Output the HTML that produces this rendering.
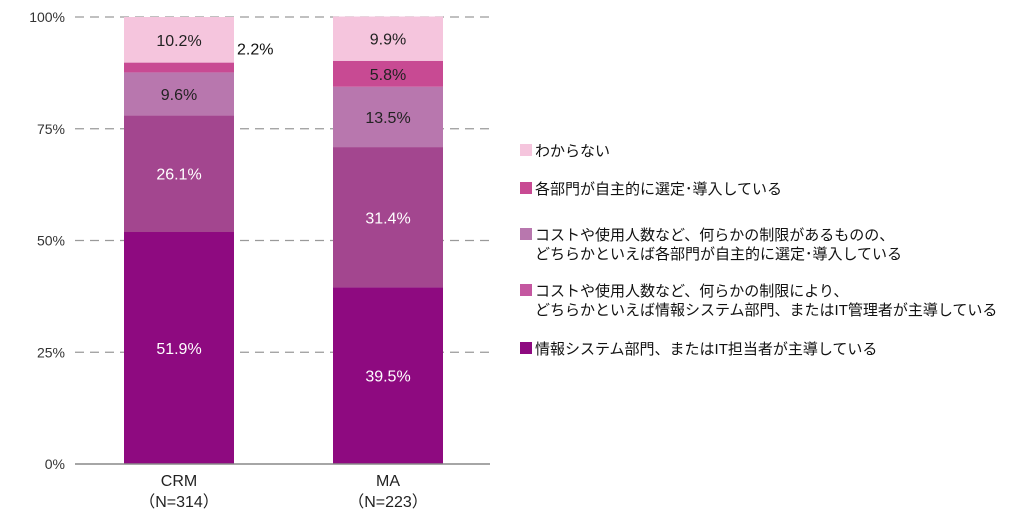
<!DOCTYPE html>
<html><head><meta charset="utf-8"><style>
body{margin:0;background:#fff;width:1030px;height:524px;overflow:hidden;font-family:"Liberation Sans","Noto Sans CJK JP",sans-serif}
svg text{font-family:"Liberation Sans","Noto Sans CJK JP",sans-serif}
</style></head><body>
<svg id="c" width="1030" height="524"></svg>
<script>
const categories=["CRM","MA"];
const sublabels=["（N=314）","（N=223）"];
const seriesNames=["情報システム部門、またはIT担当者が主導している","コスト…により","コスト…あるものの","各部門が自主的に選定・導入している","わからない"];
const s1=[51.9,39.5];
const s2=[26.1,31.4];
const s3=[9.6,13.5];
const s4=[2.2,5.8];
const s5=[10.2,9.9];
const ticks=[0,25,50,75,100];
const series=[s1,s2,s3,s4,s5];
const colors=["#8E0A80","#A3468F","#B877AE","#C84A93","#F5C5DD"];
const textColors=["#fff","#fff","#222","#222","#222"];
const NS="http://www.w3.org/2000/svg";
const svg=document.getElementById('c');
function el(t,a,p){const e=document.createElementNS(NS,t);for(const k in a)e.setAttribute(k,a[k]);(p||svg).appendChild(e);return e;}
const y0=464,y1=17;
function y(v){return y0-(v/100)*(y0-y1);}
const barX=[124,333],barW=110;
ticks.forEach(t=>{
 if(t>0){const l=el('line',{x1:75,x2:490,y1:y(t),y2:y(t),stroke:'#9a9a9a','stroke-width':1.2,'stroke-dasharray':'9,6'});
 
 }
 const tx=el('text',{x:65,y:y(t)+5,'text-anchor':'end','font-size':14,fill:'#333'});tx.textContent=t+'%';
 
 
});
categories.forEach((c,i)=>{
 let cum=0;
 series.forEach((s,j)=>{
  const v=s[i];const top=y(cum+v),bot=y(cum);
  const r=el('rect',{x:barX[i],y:top,width:barW,height:bot-top,fill:colors[j]});
  
  
  let lx=barX[i]+barW/2,ly=(top+bot)/2+6,anchor='middle',fc=textColors[j];
  if(v<4){lx=barX[i]+barW+3;anchor='start';fc='#111';ly=(top+bot)/2-13;}
  const t=el('text',{x:lx,y:ly,'text-anchor':anchor,'font-size':16,fill:fc});t.textContent=v.toFixed(1)+'%';
  
  
  cum+=v;
 });
 const a=el('text',{x:barX[i]+barW/2,y:486,'text-anchor':'middle','font-size':16,fill:'#222'});a.textContent=c;
 
 
 const b=el('text',{x:barX[i]+barW/2,y:507,'text-anchor':'middle','font-size':16,fill:'#222'});b.textContent=sublabels[i];
 
 
});
const ax=el('line',{x1:75,x2:490,y1:y0,y2:y0,stroke:'#888','stroke-width':1.5});


const legend=[
 {c:"#F5C5DD",y:150,l:["わからない"]},
 {c:"#C84A93",y:188,l:["各部門が自主的に選定･導入している"]},
 {c:"#B877AE",y:234,l:["コストや使用人数など、何らかの制限があるものの、","どちらかといえば各部門が自主的に選定･導入している"]},
 {c:"#C457A0",y:290,l:["コストや使用人数など、何らかの制限により、","どちらかといえば情報システム部門、またはIT管理者が主導している"]},
 {c:"#8E0A80",y:348,l:["情報システム部門、またはIT担当者が主導している"]}
];
legend.forEach((g,i)=>{
 const gg=el('g',{});
 
 
 el('rect',{x:520,y:g.y-6,width:12,height:12,fill:g.c},gg);
 g.l.forEach((t,k)=>{const tx=el('text',{x:535,y:g.y+6+k*19,'font-size':15,fill:'#111'},gg);tx.textContent=t;});
});
</script>
</body></html>
